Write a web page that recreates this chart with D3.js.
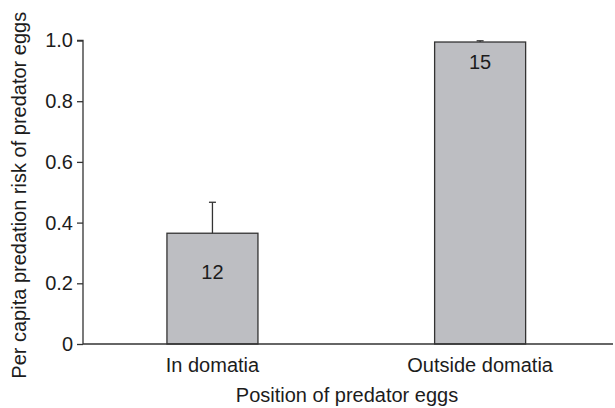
<!DOCTYPE html>
<html>
<head>
<meta charset="utf-8">
<script src="https://cdn.jsdelivr.net/npm/d3@7"></script>
<style>
  html, body { margin: 0; padding: 0; background: #fff; }
  svg { display: block; font-family: "Liberation Sans", Arial, Helvetica, sans-serif; }
</style>
</head>
<body>
<svg id="chart" width="615" height="408"></svg>
<script>
// Position of predator eggs and per capita predation risk
const categories = ["In domatia", "Outside domatia"];
const risk = [0.365, 0.995];
const riskSE = [0.102, 0.004];
const sampleSizes = ["12", "15"];
const yTicks = [0, 0.2, 0.4, 0.6, 0.8, 1.0];
const yTickLabels = ["0", "0.2", "0.4", "0.6", "0.8", "1.0"];

const svg = d3.select("#chart");
const ink = "#1c1c1c";
const fontSize = 20;

const x0 = 83, x1 = 613, yTop = 40.5, yBottom = 344;

const x = d3.scaleBand()
  .domain(categories)
  .range([x0, x1])
  .paddingInner(0.66)
  .paddingOuter(0.32)
  .align(0.49);

const y = d3.scaleLinear().domain([0, 1]).range([yBottom, yTop]);

// Bars
const bars = svg.append("g");
bars.selectAll("rect")
  .data(categories)
  .join("rect")
  .attr("x", d => x(d))
  .attr("y", (d, i) => y(risk[i]))
  .attr("width", x.bandwidth())
  .attr("height", (d, i) => yBottom - y(risk[i]))
  .attr("fill", "#bdbec2")
  .attr("stroke", "#333")
  .attr("stroke-width", 1.3);

// Error bars (upper only)
const capHalf = 3.5;
const err = svg.append("g").attr("stroke", "#333").attr("stroke-width", 1.3);
categories.forEach((c, i) => {
  const cx = x(c) + x.bandwidth() / 2;
  err.append("line")
    .attr("x1", cx).attr("x2", cx)
    .attr("y1", y(risk[i])).attr("y2", y(risk[i] + riskSE[i]));
  err.append("line")
    .attr("x1", cx - capHalf).attr("x2", cx + capHalf)
    .attr("y1", y(risk[i] + riskSE[i])).attr("y2", y(risk[i] + riskSE[i]));
});

// Sample size labels inside bars
const labelDrop = [46, 27];
svg.append("g")
  .selectAll("text")
  .data(categories)
  .join("text")
  .attr("x", d => x(d) + x.bandwidth() / 2)
  .attr("y", (d, i) => y(risk[i]) + labelDrop[i])
  .attr("text-anchor", "middle")
  .attr("font-size", fontSize)
  .attr("fill", ink)
  .text((d, i) => sampleSizes[i]);

// Y axis
const yAxis = d3.axisLeft(y)
  .tickValues(yTicks)
  .tickFormat((d, i) => yTickLabels[i])
  .tickSize(6)
  .tickPadding(4);
const gy = svg.append("g").attr("transform", `translate(${x0},0)`).call(yAxis);
gy.select(".domain").attr("stroke", "#333").attr("stroke-width", 1.3)
  .attr("d", `M-6,${yTop}H0V${yBottom}`);
gy.selectAll(".tick line").attr("stroke", "#333").attr("stroke-width", 1.3);
gy.selectAll(".tick text")
  .attr("font-size", fontSize)
  .attr("font-family", "Liberation Sans, Arial, sans-serif")
  .attr("fill", ink);

// X axis line (no ticks)
const xAxis = d3.axisBottom(x).tickSize(0).tickPadding(9);
const gx = svg.append("g").attr("transform", `translate(0,${yBottom})`).call(xAxis);
gx.select(".domain").attr("stroke", "#333").attr("stroke-width", 1.3)
  .attr("d", `M${x0},0H${x1}`);
gx.selectAll(".tick text")
  .attr("font-size", fontSize)
  .attr("font-family", "Liberation Sans, Arial, sans-serif")
  .attr("fill", ink)
  .attr("dy", "0.95em");

// Axis titles
svg.append("text")
  .attr("x", 347)
  .attr("y", 402)
  .attr("text-anchor", "middle")
  .attr("font-size", fontSize)
  .attr("fill", ink)
  .text("Position of predator eggs");

svg.append("text")
  .attr("transform", `translate(26,${(yTop + yBottom) / 2 + 3}) rotate(-90)`)
  .attr("text-anchor", "middle")
  .attr("font-size", fontSize)
  .attr("fill", ink)
  .text("Per capita predation risk of predator eggs");
</script>
</body>
</html>
